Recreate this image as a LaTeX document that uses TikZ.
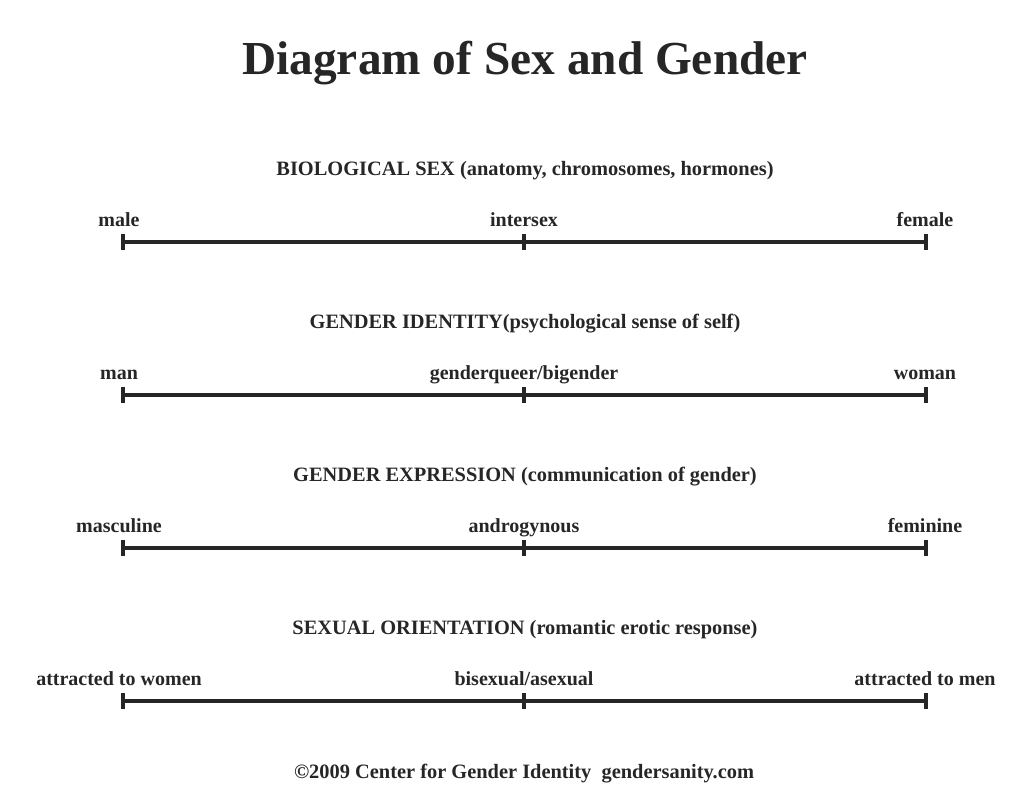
\documentclass[tikz,border=0pt]{standalone}
\usepackage{fontspec}
\setmainfont{Liberation Serif}
\begin{document}
\begin{tikzpicture}[x=0.75pt,y=-0.75pt,
  axis/.style={line width=2.5pt,draw=black!85},
  tick/.style={line width=2.3pt,draw=black!85},
  lbl/.style={font=\bfseries\fontsize{15}{17}\selectfont,text=black!85,inner sep=0pt,anchor=base},
  head/.style={font=\bfseries\fontsize{15.3}{17}\selectfont,text=black!85,inner sep=0pt,anchor=base},
  ttl/.style={font=\bfseries\fontsize{35.5}{40}\selectfont,text=black!85,inner sep=0pt,anchor=base}]
\useasboundingbox (0,0) rectangle (1024,804);
\node[ttl] (title) at (525,74) {Diagram of Sex and Gender};
\foreach \r/\y/\h/\l/\m/\n in {
  1/242/{BIOLOGICAL SEX (anatomy, chromosomes, hormones)}/male/intersex/female,
  2/395/{GENDER IDENTITY(psychological sense of self)}/man/genderqueer\slash bigender/woman,
  3/548/{GENDER EXPRESSION (communication of gender)}/masculine/androgynous/feminine,
  4/701/{SEXUAL ORIENTATION (romantic erotic response)}/attracted to women/bisexual\slash asexual/attracted to men}{
  \coordinate (L\r) at (123,\y);
  \coordinate (M\r) at (524,\y);
  \coordinate (R\r) at (926,\y);
  \node[head] (h\r) at (525,\y-67) {\h};
  \node[lbl] (l\r) at (119,\y-16) {\l};
  \node[lbl] (m\r) at (524,\y-16) {\m};
  \node[lbl] (r\r) at (925,\y-16) {\n};
  \draw[axis] (L\r) -- (R\r);
  \draw[tick] ([yshift=-8*0.75pt]L\r) -- ([yshift=8*0.75pt]L\r);
  \draw[tick] ([yshift=-8*0.75pt]M\r) -- ([yshift=8*0.75pt]M\r);
  \draw[tick] ([yshift=-8*0.75pt]R\r) -- ([yshift=8*0.75pt]R\r);
}
\node[head] (foot) at (524,778) {\textcopyright 2009 Center for Gender Identity\ \ gendersanity.com};
\end{tikzpicture}
\end{document}
